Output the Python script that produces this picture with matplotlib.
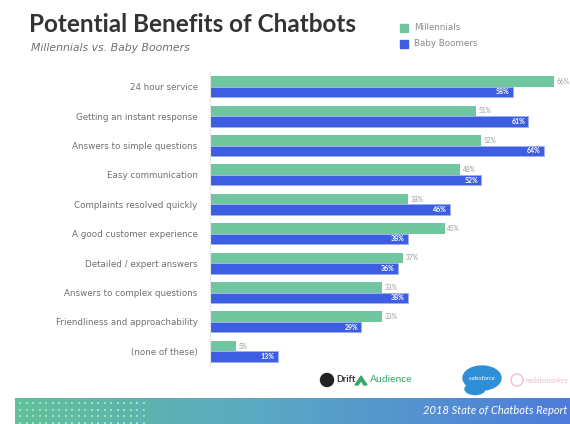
import matplotlib

matplotlib.use("Agg")

import matplotlib.pyplot as plt
import numpy as np
from matplotlib.patches import Circle, Ellipse, Polygon, Rectangle

categories = [
    "24 hour service",
    "Getting an instant response",
    "Answers to simple questions",
    "Easy communication",
    "Complaints resolved quickly",
    "A good customer experience",
    "Detailed / expert answers",
    "Answers to complex questions",
    "Friendliness and approachability",
    "(none of these)",
]
millennials = [66, 51, 52, 48, 38, 45, 37, 33, 33, 5]
baby_boomers = [58, 61, 64, 52, 46, 38, 36, 38, 29, 13]
series_names = ["Millennials", "Baby Boomers"]

green = "#6fc69f"
blue = "#3d5ee0"
gray_text = "#707070"

W, H = 570, 424
fig = plt.figure(figsize=(W / 100, H / 100), dpi=100)
fig.patch.set_facecolor("white")


def fx(px):
    return px / W


def fy(py):
    return 1 - py / H


# Title block
fig.text(fx(29), fy(24), "Potential Benefits of Chatbots", fontsize=17.5,
         fontweight="bold", color="#333333", family="Lato", va="center")
fig.text(fx(31), fy(48), "Millennials vs. Baby Boomers", fontsize=7.8,
         style="italic", color=gray_text, family="DejaVu Sans", va="center")

# Legend squares
for i, (name, col) in enumerate(zip(series_names, [green, blue])):
    y = 28 + i * 16
    fig.patches.append(Rectangle((fx(400), fy(y + 4)), fx(8), 8 / H,
                                 transform=fig.transFigure, color=col))
    fig.text(fx(414), fy(y), name, fontsize=6.3, color="#8a8a8a",
             family="DejaVu Sans", va="center")

# Bars
ax = fig.add_axes([fx(210), fy(366), fx(360), 294 / H])
pos = np.arange(len(categories))
h = 0.36
ax.barh(pos - h / 2, millennials, height=h, color=green)
ax.barh(pos + h / 2, baby_boomers, height=h, color=blue,
        edgecolor="#9fb0f0", linewidth=0.6)

for p, v in zip(pos, millennials):
    ax.text(v + 0.5, p - h / 2, f"{v}%", fontsize=4.8, color="#9a9a9a",
            va="center", ha="left", family="Lato")
for p, v in zip(pos, baby_boomers):
    ax.text(v - 0.6, p + h / 2, f"{v}%", fontsize=5, color="white",
            fontweight="bold", va="center", ha="right", family="Lato")

ax.set_xlim(0, 69)
ax.set_ylim(9.5, -0.5)
ax.set_yticks(pos)
ax.set_yticklabels(categories, fontsize=6.3, color=gray_text,
                   family="DejaVu Sans")
ax.tick_params(axis="y", length=0, pad=9)
ax.set_xticks([])
for side in ["top", "right", "bottom"]:
    ax.spines[side].set_visible(False)
ax.spines["left"].set_color("#e6e6e6")
ax.spines["left"].set_linewidth(0.8)
ax.patch.set_alpha(0)

# Sponsor logos row
ov = fig.add_axes([0, 0, 1, 1])
ov.axis("off")
ov.patch.set_alpha(0)

ov.add_patch(Circle((327, 380), 6.5, color="#222222"))
ov.text(336, 380, "Drift", fontsize=6.5, fontweight="bold", color="#333333",
        va="center", ha="left", family="Lato")
ov.add_patch(Polygon([[355, 385], [361, 376], [367, 385], [364, 385],
                      [361, 380.5], [358, 385]], closed=True,
                     color="#3aa66a"))
ov.text(370, 380, "Audience", fontsize=7.5, color="#3aa66a", va="center",
        ha="left", family="Lato")
ov.add_patch(Ellipse((482, 378), 38, 24, color="#2f8fd6"))
ov.add_patch(Ellipse((475, 389), 20, 11, color="#2f8fd6"))
ov.text(482, 378, "salesforce", fontsize=4.5, color="white", va="center",
        ha="center", family="Lato", style="italic")
ov.add_patch(Circle((517, 380), 6, fill=False, edgecolor="#f0c8d4",
                    linewidth=1.2))
ov.text(525, 380, "mobilemonkey", fontsize=4.8, color="#e8c0cc",
        va="center", ha="left", family="Lato")

# Footer banner with green-to-blue gradient
grad = np.linspace(0, 1, 256)[:, None]
c0 = np.array([0x62, 0xc0, 0x9a]) / 255
mid = np.array([0x5a, 0xa8, 0xc4]) / 255
c1 = np.array([0x4e, 0x7c, 0xdc]) / 255
cols = np.where(grad < 0.45,
                c0 + (mid - c0) * (grad / 0.45),
                mid + (c1 - mid) * ((grad - 0.45) / 0.55))
ov.imshow(cols[None, :, :], extent=(15, W, H, 398), aspect="auto",
          zorder=1)
dx, dy = np.meshgrid(np.arange(20, 150, 6.5), np.arange(403, 424, 6.5))
ov.scatter(dx.ravel(), dy.ravel(), s=2.2, color="#9fe0bf", marker="s",
           linewidths=0, zorder=2)
ov.text(567, 411, "2018 State of Chatbots Report", fontsize=8,
        style="italic", color="white", va="center", ha="right", zorder=3,
        family="Lato")
ov.set_xlim(0, W)
ov.set_ylim(H, 0)

fig.savefig("out.png", dpi=100)
